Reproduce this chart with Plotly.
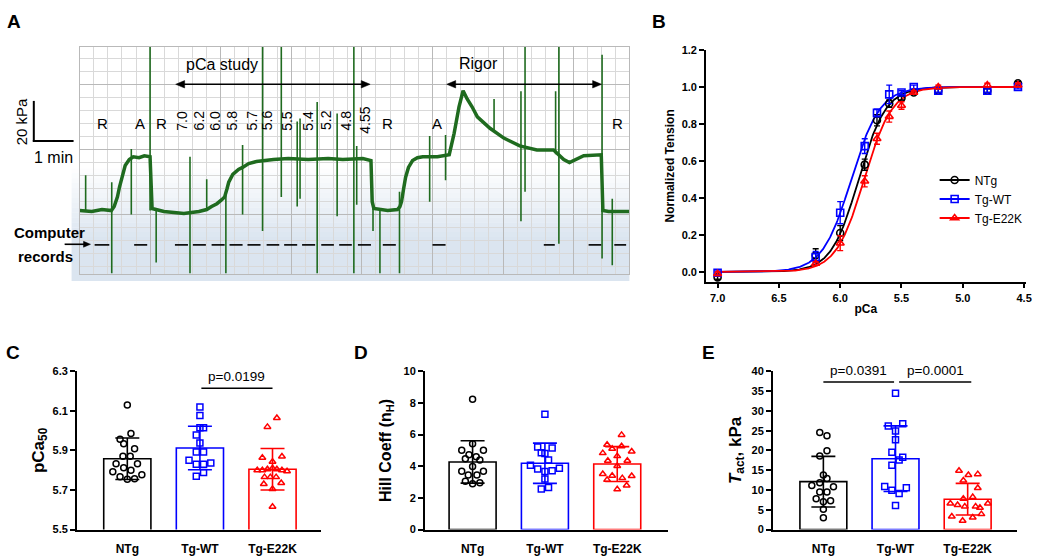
import numpy as np
import plotly.graph_objects as go

W, H = 1050, 560
FONT = "Liberation Sans, Arial, sans-serif"
GREEN = "#1f6b1f"
BLACK, BLUE, RED = "#000000", "#0000ff", "#ff0000"


def px(x):
    return x / W


def py(y):
    return 1 - y / H


# ---------------- Panel A: force trace (time in min, force in kPa) ----------------
TRACE_T = [0.00, 0.30, 0.55, 0.78, 0.85, 0.93, 0.98, 1.05, 1.12, 1.22, 1.32, 1.46, 1.59, 1.73,
           1.78, 2.07, 2.32, 2.56, 2.93, 3.12, 3.24, 3.37, 3.49, 3.56, 3.62, 3.66, 3.76, 3.90,
           4.00, 4.15, 4.34, 4.49, 4.76, 5.12, 5.61, 6.10, 6.46, 6.95, 7.12, 7.15, 7.18, 7.22,
           7.56, 7.80, 7.86, 7.90, 7.95, 8.00, 8.07, 8.17, 8.29, 8.42, 8.78, 8.98, 9.07, 9.19,
           9.31, 9.41, 9.51, 9.63, 9.76, 10.07, 10.41, 10.80, 11.22, 11.63, 11.88, 12.02, 12.37,
           12.80, 12.84, 12.98, 13.29, 13.49]
TRACE_F = [0.0, -0.5, 0.5, 0.0, 2.0, 6.8, 11.7, 18.0, 22.4, 25.4, 26.8, 26.3, 27.3, 26.8,
           1.0, -0.5, -1.0, -1.5, -0.5, 0.5, 2.0, 3.4, 5.4, 6.8, 11.0, 14.1, 18.0, 20.5,
           21.5, 23.4, 24.4, 24.9, 25.4, 25.9, 25.4, 25.9, 25.4, 25.9, 25.4, 24.9, 4.4, 1.0,
           0.0, 0.5, 2.0, 4.4, 10.7, 16.6, 21.5, 24.9, 26.3, 26.8, 26.8, 27.3, 27.8, 38.5,
           51.7, 59.7, 55.6, 51.7, 46.7, 41.0, 36.1, 32.2, 30.2, 30.2, 25.4, 23.9, 27.3,
           27.8, 0.0, -0.5, -0.5, -0.5]
SPIKE_T = [0.15, 0.79, 1.27, 1.73, 1.88, 2.71, 3.12, 3.59, 4.00, 4.49, 4.95, 5.34, 5.41, 5.83,
           6.32, 6.73, 6.80, 7.20, 7.37, 7.85, 8.59, 8.98, 10.17, 10.83, 10.93, 11.68, 11.76,
           12.82, 13.07]
SPIKE_LO = [0.0, -31.2, -2.0, 0.0, -25.9, -31.2, 0.0, -31.2, -2.0, -10.2, 6.8, 2.0, 5.9, -31.2,
            -2.9, -31.2, 2.9, -10.2, -31.2, -31.2, 4.4, 15.1, 40.0, -5.4, 9.3, 28.0, -16.6,
            -23.9, -27.3]
SPIKE_HI = [17.6, 14.1, 30.7, 81.6, 0.0, 26.8, 15.6, 9.0, 32.7, 81.6, 81.6, 44.4, 45.9, 54.1,
            48.3, 81.6, 32.2, 2.0, 0.0, 9.3, 37.1, 37.6, 55.6, 59.5, 81.6, 59.5, 81.6,
            77.6, 5.9]
REC_START = [0.37, 1.34, 2.34, 2.78, 3.24, 3.68, 4.12, 4.59, 5.02, 5.46, 5.93, 6.37, 6.83,
             7.44, 8.66, 11.39, 12.49, 13.12]
REC_END = [0.73, 1.66, 2.66, 3.10, 3.56, 4.00, 4.44, 4.90, 5.34, 5.78, 6.24, 6.68, 7.15,
           7.76, 8.98, 11.66, 12.80, 13.41]
REC_LEVEL = -17.1
A_LETTERS = ["R", "A", "R", "R", "A", "R"]
A_LETTER_T = [0.56, 1.49, 2.02, 7.56, 8.78, 13.21]
PCA_STEPS = ["7.0", "6.2", "6.0", "5.8", "5.7", "5.6", "5.5", "5.4", "5.2", "4.8", "4.55"]
PCA_STEP_T = [2.52, 2.93, 3.33, 3.74, 4.23, 4.62, 5.10, 5.61, 6.06, 6.54, 7.01]

# ---------------- Panel B: normalized tension ----------------
PCA = [7.0, 6.2, 6.0, 5.8, 5.7, 5.6, 5.5, 5.4, 5.2, 4.8, 4.55]
NTG_B = [-0.03, 0.09, 0.21, 0.58, 0.82, 0.91, 0.94, 0.97, 0.98, 0.98, 1.02]
NTG_B_ERR = [0.01, 0.035, 0.04, 0.03, 0.03, 0.02, 0.01, 0.01, 0.01, 0.01, 0.01]
WT_B = [-0.005, 0.08, 0.32, 0.68, 0.86, 0.96, 0.97, 1.00, 0.98, 0.98, 1.00]
WT_B_ERR = [0.01, 0.03, 0.06, 0.04, 0.02, 0.05, 0.01, 0.01, 0.01, 0.01, 0.01]
E22K_B = [-0.01, 0.045, 0.155, 0.49, 0.72, 0.84, 0.90, 0.97, 1.00, 1.01, 1.01]
E22K_B_ERR = [0.01, 0.01, 0.04, 0.03, 0.03, 0.03, 0.02, 0.01, 0.01, 0.01, 0.01]
NTG_PCA50, NTG_NH = 5.85, 3.9
WT_PCA50, WT_NH = 5.91, 3.7
E22K_PCA50, E22K_NH = 5.805, 3.8

# ---------------- Panels C-E ----------------
GROUPS = ["NTg", "Tg-WT", "Tg-E22K"]

C_NTG = [6.13, 5.985, 5.957, 5.934, 5.909, 5.871, 5.871, 5.833, 5.833, 5.813, 5.800, 5.792,
         5.767, 5.777, 5.754, 5.757]
C_WT = [6.12, 6.077, 6.015, 6.015, 5.978, 5.937, 5.892, 5.892, 5.850, 5.830, 5.830, 5.836,
        5.788, 5.769]
C_E22K = [6.064, 6.019, 5.863, 5.869, 5.843, 5.80, 5.80, 5.805, 5.81, 5.805, 5.80, 5.795,
          5.765, 5.765, 5.765, 5.73, 5.735, 5.705, 5.615]
C_MEAN = [5.858, 5.912, 5.805]
C_SD = [0.105, 0.11, 0.105]

D_NTG = [8.24, 5.42, 5.01, 5.01, 4.72, 4.60, 4.47, 4.40, 3.98, 3.69, 3.69, 3.44, 3.44, 3.05,
         2.90, 2.95]
D_WT = [7.28, 5.21, 5.15, 4.85, 4.80, 4.39, 4.06, 3.82, 3.67, 3.72, 3.88, 3.20, 2.56, 2.66]
D_E22K = [5.98, 5.36, 5.11, 5.26, 4.83, 4.93, 4.64, 4.35, 4.35, 4.02, 3.51, 3.40, 3.25, 3.38,
          3.14, 2.78, 2.54]
D_MEAN = [4.27, 4.19, 4.14]
D_SD = [1.34, 1.27, 1.10]

E_NTG = [24.5, 23.7, 19.9, 18.6, 13.8, 12.9, 11.8, 11.1, 10.8, 9.5, 9.5, 7.8, 7.0, 7.25, 5.1,
         3.0]
E_WT = [34.46, 26.15, 26.72, 24.9, 22.68, 19.54, 18.3, 17.56, 16.25, 10.89, 9.9, 9.08, 10.56,
        6.1]
E_E22K = [14.85, 13.8, 14.0, 12.4, 10.5, 7.8, 8.2, 6.6, 6.2, 5.8, 5.8, 6.6, 5.5, 3.3, 2.2,
          3.05, 3.9]
E_MEAN = [12.1, 17.9, 7.67]
E_SD = [6.4, 8.3, 4.0]

# horizontal placement (jitter) of the individual points, in category units
C_JIT = [[0, 0.05, -0.10, -0.05, 0.10, -0.06, 0.04, -0.155, 0.14, -0.05, 0.05, -0.20, -0.10,
          0.20, 0, 0.10],
         [0, 0, 0, 0.05, -0.05, 0, -0.05, 0.05, -0.15, -0.05, 0.05, 0.15, 0.05, -0.05],
         [0.06, -0.07, -0.14, 0.13, 0, -0.21, -0.14, -0.07, 0, 0.06, 0.13, 0.20, -0.11, -0.03,
          0.05, -0.12, 0.12, 0, 0]]
D_JIT = [[0, 0, -0.15, 0.15, -0.05, 0.05, -0.10, 0.10, 0, -0.15, 0.15, -0.06, 0.06, -0.10, 0,
          0.10],
         [0, -0.10, 0.10, -0.05, 0.0, 0.05, -0.20, -0.10, 0, 0.10, 0.20, 0, -0.05, 0.05],
         [0.06, -0.14, -0.07, 0.06, -0.20, 0.20, 0, -0.13, 0.14, 0, -0.20, -0.07, 0.07, 0.20,
          -0.14, 0.13, 0]]
E_JIT = [[-0.05, 0.05, 0.05, -0.05, 0, 0.05, -0.05, -0.16, 0.14, -0.05, 0.05, -0.10, 0, 0.10,
          0, 0],
         [0, -0.10, 0.10, 0, 0, -0.05, 0.10, 0.05, -0.05, -0.15, -0.05, 0.05, 0.15, 0],
         [-0.12, 0.01, 0.14, -0.06, 0.14, -0.06, 0.07, -0.24, -0.14, -0.04, 0.11, 0.28, 0.17,
          -0.22, -0.07, 0.07, 0.19]]

fig = go.Figure()

# ---------------- Panel A traces ----------------
fig.add_trace(go.Scatter(x=TRACE_T, y=TRACE_F, mode="lines", xaxis="x", yaxis="y",
                         line=dict(color=GREEN, width=3.5), showlegend=False, hoverinfo="skip"))
sx, sy = [], []
for t, lo, hi in zip(SPIKE_T, SPIKE_LO, SPIKE_HI):
    sx += [t, t, None]
    sy += [lo, hi, None]
fig.add_trace(go.Scatter(x=sx, y=sy, mode="lines", xaxis="x", yaxis="y",
                         line=dict(color=GREEN, width=1.6), showlegend=False, hoverinfo="skip"))
dx, dy = [], []
for a, b in zip(REC_START, REC_END):
    dx += [a, b, None]
    dy += [REC_LEVEL, REC_LEVEL, None]
fig.add_trace(go.Scatter(x=dx, y=dy, mode="lines", xaxis="x", yaxis="y",
                         line=dict(color="#111111", width=1.6), showlegend=False, hoverinfo="skip"))

# ---------------- Panel B traces ----------------
fine = np.linspace(PCA[0], PCA[-1], 400)
series_b = [
    ("NTg", NTG_B, NTG_B_ERR, NTG_PCA50, NTG_NH, BLACK, "circle-open"),
    ("Tg-WT", WT_B, WT_B_ERR, WT_PCA50, WT_NH, BLUE, "square-open"),
    ("Tg-E22K", E22K_B, E22K_B_ERR, E22K_PCA50, E22K_NH, RED, "triangle-up-open"),
]
for name, vals, errs, p50, nh, col, sym in series_b:
    curve = 1.0 / (1.0 + 10 ** (nh * (fine - p50)))
    fig.add_trace(go.Scatter(x=fine, y=curve, mode="lines", xaxis="x2", yaxis="y2",
                             line=dict(color=col, width=1.8), showlegend=False, hoverinfo="skip"))
for name, vals, errs, p50, nh, col, sym in series_b:
    fig.add_trace(go.Scatter(x=PCA, y=vals, mode="markers", xaxis="x2", yaxis="y2",
                             marker=dict(symbol=sym, size=7, color=col, line=dict(color=col, width=1.6)),
                             error_y=dict(type="data", array=errs, color=col, thickness=1.4, width=3),
                             showlegend=False, cliponaxis=False))
for name, vals, errs, p50, nh, col, sym in series_b:
    fig.add_trace(go.Scatter(x=[None], y=[None], mode="lines+markers", name=name, xaxis="x2",
                             yaxis="y2", line=dict(color=col, width=1.8),
                             marker=dict(symbol=sym, size=7, color=col, line=dict(color=col, width=1.6))))

# ---------------- Panels C-E traces ----------------
COLORS = [BLACK, BLUE, RED]
SYMBOLS = ["circle-open", "square-open", "triangle-up-open"]
panels = [
    ("x3", "y3", [C_NTG, C_WT, C_E22K], C_JIT, C_MEAN, C_SD),
    ("x4", "y4", [D_NTG, D_WT, D_E22K], D_JIT, D_MEAN, D_SD),
    ("x5", "y5", [E_NTG, E_WT, E_E22K], E_JIT, E_MEAN, E_SD),
]
for xa, ya, groups, jits, means, sds in panels:
    for i in range(3):
        fig.add_trace(go.Bar(x=[i], y=[means[i]], width=0.65, xaxis=xa, yaxis=ya,
                             marker=dict(color="white", line=dict(color=COLORS[i], width=1.6)),
                             error_y=dict(type="data", array=[sds[i]], color=COLORS[i],
                                          thickness=1.6, width=12),
                             showlegend=False, hoverinfo="skip"))
    for i in range(3):
        fig.add_trace(go.Scatter(x=[i + j for j in jits[i]], y=groups[i], mode="markers",
                                 xaxis=xa, yaxis=ya,
                                 marker=dict(symbol=SYMBOLS[i], size=6, color=COLORS[i],
                                             line=dict(color=COLORS[i], width=1.5)),
                                 showlegend=False, hoverinfo="skip", cliponaxis=False))

# ---------------- Layout / axes ----------------
tick_b = dict(family=FONT, size=11, color="black", weight="bold")
title_b = dict(family=FONT, size=12, color="black", weight="bold")

common_cat = dict(tickvals=[0, 1, 2], ticktext=GROUPS, showline=True, linecolor="black",
                  linewidth=1.6, ticks="", showgrid=False, zeroline=False, ticklabelstandoff=7,
                  tickfont=dict(family=FONT, size=12, color="black", weight="bold"))
common_val = dict(showline=True, linecolor="black", linewidth=1.6, ticks="outside", ticklen=5,
                  tickwidth=1.6, tickcolor="black", showgrid=False, zeroline=False,
                  tickfont=tick_b)

layout = dict(
    width=W, height=H, autosize=False, margin=dict(l=0, r=0, t=0, b=0),
    paper_bgcolor="white", plot_bgcolor="rgba(0,0,0,0)", barmode="overlay",
    font=dict(family=FONT, color="black"),
    showlegend=True,
    legend=dict(x=px(940), y=py(163), xanchor="left", yanchor="top", bgcolor="rgba(0,0,0,0)",
                font=dict(family=FONT, size=12, color="black"), tracegroupgap=0,
                itemwidth=30),
    xaxis=dict(domain=[px(80), px(633)], range=[0, 13.49], anchor="y", showticklabels=False,
               ticks="", showgrid=True, gridcolor="#b9b9b9", gridwidth=1, tick0=0,
               dtick=1.7317, zeroline=False, showline=True, linecolor="#b9b9b9", mirror=True,
               minor=dict(dtick=0.34634, tick0=0, showgrid=True, gridcolor="#d9d9d9",
                          gridwidth=1)),
    yaxis=dict(domain=[py(274), py(41.7)], range=[-31.7, 81.6], anchor="x",
               showticklabels=False, ticks="", showgrid=True, gridcolor="#b9b9b9",
               gridwidth=1, tick0=62.9, dtick=32.5, zeroline=False, showline=True,
               linecolor="#b9b9b9", mirror=True,
               minor=dict(dtick=6.5, tick0=62.9, showgrid=True, gridcolor="#d9d9d9",
                          gridwidth=1)),
    xaxis2=dict(domain=[px(710), px(1031.7)], range=[7.095, 4.486], anchor="y2",
                tickvals=[7.0, 6.5, 6.0, 5.5, 5.0, 4.5],
                ticktext=["7.0", "6.5", "6.0", "5.5", "5.0", "4.5"],
                title=dict(text="pCa", font=title_b, standoff=2), **common_val),
    yaxis2=dict(domain=[py(281.7), py(45)], range=[-0.053, 1.2], anchor="x2",
                tickvals=[0, 0.2, 0.4, 0.6, 0.8, 1.0, 1.2], tickformat=".1f",
                title=dict(text="Normalized Tension", font=title_b, standoff=4), **common_val),
    xaxis3=dict(domain=[px(77.3), px(323)], range=[-0.695, 2.67], anchor="y3", **common_cat),
    yaxis3=dict(domain=[py(535), py(373.3)], range=[5.5, 6.3], anchor="x3",
                tickvals=[5.5, 5.7, 5.9, 6.1, 6.3], ticktext=["5.5", "5.7", "5.9", "6.1", "6.3"],
                title=dict(text="pCa<sub>50</sub>",
                           font=dict(family=FONT, size=17, color="black", weight="bold"),
                           standoff=4), **common_val),
    xaxis4=dict(domain=[px(427.3), px(671.7)], range=[-0.66, 2.70], anchor="y4", **common_cat),
    yaxis4=dict(domain=[py(535), py(373.3)], range=[0, 10], anchor="x4",
                tickvals=[0, 2, 4, 6, 8, 10],
                title=dict(text="Hill Coeff (n<sub>H</sub>)",
                           font=dict(family=FONT, size=16, color="black", weight="bold"),
                           standoff=8), **common_val),
    xaxis5=dict(domain=[px(777.3), px(1023.3)], range=[-0.70, 2.69], anchor="y5", **common_cat),
    yaxis5=dict(domain=[py(535), py(373.3)], range=[0, 40], anchor="x5",
                tickvals=[0, 5, 10, 15, 20, 25, 30, 35, 40],
                title=dict(text="<i>T</i><sub>act</sub>, kPa",
                           font=dict(family=FONT, size=17, color="black", weight="bold"),
                           standoff=6), **common_val),
)
fig.update_layout(**layout)

# ---------------- Shapes ----------------
shapes = []
TINT = "rgb(219,229,240)"
n_band = 14
for k in range(n_band):
    y0 = 166 + k * 5
    shapes.append(dict(type="rect", xref="paper", yref="paper", x0=px(72), x1=px(633),
                       y0=py(y0 + 5), y1=py(y0), line=dict(width=0),
                       fillcolor=TINT, opacity=(k + 1) / (n_band + 1), layer="below"))
shapes.append(dict(type="rect", xref="paper", yref="paper", x0=px(72), x1=px(633),
                   y0=py(281), y1=py(236), line=dict(width=0), fillcolor=TINT, layer="below"))
# scale bar
shapes.append(dict(type="line", xref="paper", yref="paper", x0=px(34), x1=px(34),
                   y0=py(97), y1=py(138.5), line=dict(color="black", width=2)))
shapes.append(dict(type="line", xref="paper", yref="paper", x0=px(33), x1=px(74),
                   y0=py(138), y1=py(138), line=dict(color="black", width=2)))


def arrow_line(x0, x1, y):
    return dict(type="line", xref="paper", yref="paper", x0=px(x0), x1=px(x1), y0=py(y),
                y1=py(y), line=dict(color="black", width=1.6))


def arrow_head(xtip, y, direction, length=9, half=3.8):
    xb = xtip - direction * length
    path = "M {:.5f},{:.5f} L {:.5f},{:.5f} L {:.5f},{:.5f} Z".format(
        px(xtip), py(y), px(xb), py(y - half), px(xb), py(y + half))
    return dict(type="path", xref="paper", yref="paper", path=path, fillcolor="black",
                line=dict(color="black", width=0.5))


# double arrows (pCa study / Rigor) and computer-record pointer
for x0, x1 in [(176.7, 372.3), (449.3, 605.0)]:
    shapes.append(arrow_line(x0 + 4, x1 - 4, 80))
    shapes.append(arrow_head(x0, 80, -1))
    shapes.append(arrow_head(x1, 80, 1))
shapes.append(arrow_line(65, 86, 243.5))
shapes.append(arrow_head(91, 243.5, 1, length=7, half=3))

# significance brackets
shapes.append(dict(type="line", xref="x3", yref="y3", x0=1.02, x1=2.0, y0=6.214, y1=6.214,
                   line=dict(color="black", width=1.6)))
shapes.append(dict(type="line", xref="x5", yref="y5", x0=0.0, x1=0.98, y0=37.3, y1=37.3,
                   line=dict(color="black", width=1.6)))
shapes.append(dict(type="line", xref="x5", yref="y5", x0=1.05, x1=2.05, y0=37.3, y1=37.3,
                   line=dict(color="black", width=1.6)))
fig.update_layout(shapes=shapes)

# ---------------- Annotations ----------------
ann = []


def paper_text(txt, x, y, font, angle=0):
    return dict(text=txt, x=px(x), y=py(y), xref="paper", yref="paper", showarrow=False,
                xanchor="center", yanchor="middle", textangle=angle, font=font)


letter_font = dict(family=FONT, size=19, color="black", weight="bold")
for txt, x, y in [("A", 14, 16), ("B", 663, 16), ("C", 13, 354), ("D", 363, 354),
                  ("E", 713, 354)]:
    ann.append(paper_text(txt, x, y, letter_font))

txt_font = dict(family=FONT, size=15, color="black")
for txt, t in zip(A_LETTERS, A_LETTER_T):
    ann.append(dict(text=txt, x=t, y=43.4, xref="x", yref="y", showarrow=False,
                    xanchor="center", yanchor="middle", font=txt_font))
for txt, t in zip(PCA_STEPS, PCA_STEP_T):
    ann.append(dict(text=txt, x=t, y=44.9, xref="x", yref="y", showarrow=False, textangle=-90,
                    xanchor="center", yanchor="middle",
                    font=dict(family=FONT, size=14, color="black")))
ann.append(dict(text="pCa study", x=3.49, y=72.7, xref="x", yref="y", showarrow=False,
                xanchor="center", yanchor="middle",
                font=dict(family=FONT, size=16, color="black")))
ann.append(dict(text="Rigor", x=9.80, y=73.2, xref="x", yref="y", showarrow=False,
                xanchor="center", yanchor="middle",
                font=dict(family=FONT, size=16, color="black")))
# scale bar labels
ann.append(paper_text("20 kPa", 22, 118, dict(family=FONT, size=15, color="black"), angle=-90))
ann.append(paper_text("1 min", 54, 155, dict(family=FONT, size=16, color="black")))
# computer records
rec_font = dict(family=FONT, size=15, color="black", weight="bold")
ann.append(paper_text("Computer", 50, 231, rec_font))
ann.append(paper_text("records", 46, 256, rec_font))
# p-values
pfont = dict(family=FONT, size=13.5, color="black")
ann.append(dict(text="p=0.0199", x=1.5, y=6.214, xref="x3", yref="y3", showarrow=False,
                xanchor="center", yanchor="bottom", yshift=2, font=pfont))
ann.append(dict(text="p=0.0391", x=0.49, y=37.3, xref="x5", yref="y5", showarrow=False,
                xanchor="center", yanchor="bottom", yshift=2, font=pfont))
ann.append(dict(text="p=0.0001", x=1.55, y=37.3, xref="x5", yref="y5", showarrow=False,
                xanchor="center", yanchor="bottom", yshift=2, font=pfont))
fig.update_layout(annotations=ann)

fig.write_html("out.html", config={"displayModeBar": False},
               post_script="document.body.style.margin='0';")
